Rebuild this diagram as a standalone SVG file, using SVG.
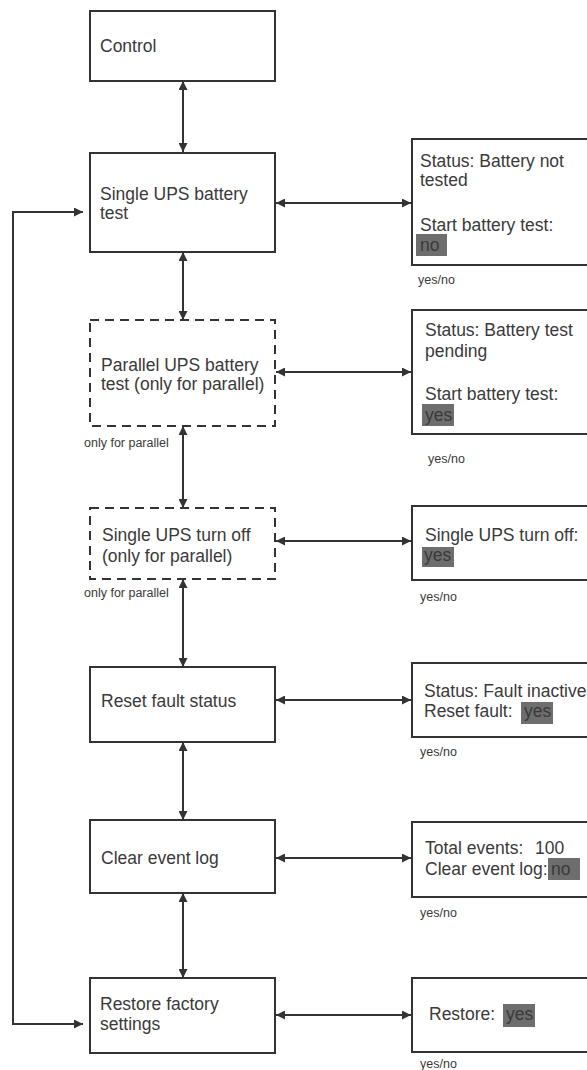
<svg xmlns="http://www.w3.org/2000/svg" width="587" height="1070" viewBox="0 0 587 1070">
  <defs>
    <marker id="ah" viewBox="0 0 10 10" refX="10" refY="5" markerWidth="9" markerHeight="9" markerUnits="userSpaceOnUse" orient="auto-start-reverse">
      <path d="M0,0 L10,5 L0,10 z" fill="#333"/>
    </marker>
    <style>
      .box { fill: #fff; stroke: #333; stroke-width: 2; }
      .dash { fill: #fff; stroke: #333; stroke-width: 2; stroke-dasharray: 9 6; }
      .t { font-family: "Liberation Sans", Arial, sans-serif; font-size: 17.5px; fill: #3a3a3a; }
      .s { font-family: "Liberation Sans", Arial, sans-serif; font-size: 12.5px; fill: #3a3a3a; }
      .hl { fill: #6e6e6e; }
      .c { fill: none; stroke: #333; stroke-width: 2; }
    </style>
  </defs>
  <rect width="587" height="1070" fill="#fff"/>

  <!-- connectors -->
  <g id="connectors">
    <line class="c" x1="183" y1="81" x2="183" y2="152" marker-start="url(#ah)" marker-end="url(#ah)"/>
    <line class="c" x1="183" y1="252" x2="183" y2="320" marker-start="url(#ah)" marker-end="url(#ah)"/>
    <line class="c" x1="183" y1="426" x2="183" y2="508" marker-start="url(#ah)" marker-end="url(#ah)"/>
    <line class="c" x1="183" y1="579" x2="183" y2="667" marker-start="url(#ah)" marker-end="url(#ah)"/>
    <line class="c" x1="183" y1="742" x2="183" y2="820" marker-start="url(#ah)" marker-end="url(#ah)"/>
    <line class="c" x1="183" y1="893" x2="183" y2="978" marker-start="url(#ah)" marker-end="url(#ah)"/>

    <line class="c" x1="276" y1="203" x2="411" y2="203" marker-start="url(#ah)" marker-end="url(#ah)"/>
    <line class="c" x1="276" y1="372" x2="411" y2="372" marker-start="url(#ah)" marker-end="url(#ah)"/>
    <line class="c" x1="276" y1="541" x2="411" y2="541" marker-start="url(#ah)" marker-end="url(#ah)"/>
    <line class="c" x1="276" y1="700" x2="411" y2="700" marker-start="url(#ah)" marker-end="url(#ah)"/>
    <line class="c" x1="276" y1="858" x2="411" y2="858" marker-start="url(#ah)" marker-end="url(#ah)"/>
    <line class="c" x1="276" y1="1015" x2="411" y2="1015" marker-start="url(#ah)" marker-end="url(#ah)"/>

    <polyline class="c" points="83,212 13,212 13,1024 83,1024" marker-start="url(#ah)" marker-end="url(#ah)"/>
  </g>

  <!-- menu column -->
  <g id="control">
    <rect class="box" x="90" y="11" width="185" height="70"/>
    <text class="t" x="100" y="52">Control</text>
  </g>
  <g id="single-battery-test">
    <rect class="box" x="90" y="153" width="185" height="99"/>
    <text class="t" x="100" y="200">Single UPS battery</text>
    <text class="t" x="100" y="219">test</text>
  </g>
  <g id="parallel-battery-test">
    <rect class="dash" x="90" y="320" width="185" height="106"/>
    <text class="t" x="101" y="371">Parallel UPS battery</text>
    <text class="t" x="101" y="390">test (only for parallel)</text>
    <text class="s" x="84" y="447">only for parallel</text>
  </g>
  <g id="single-turn-off">
    <rect class="dash" x="90" y="508" width="185" height="71"/>
    <text class="t" x="102" y="541">Single UPS turn off</text>
    <text class="t" x="102" y="562">(only for parallel)</text>
    <text class="s" x="84" y="597">only for parallel</text>
  </g>
  <g id="reset-fault">
    <rect class="box" x="90" y="667" width="185" height="75"/>
    <text class="t" x="101" y="707">Reset fault status</text>
  </g>
  <g id="clear-log">
    <rect class="box" x="90" y="820" width="185" height="73"/>
    <text class="t" x="101" y="864">Clear event log</text>
  </g>
  <g id="restore-factory">
    <rect class="box" x="90" y="978" width="185" height="75"/>
    <text class="t" x="100" y="1010">Restore factory</text>
    <text class="t" x="100" y="1030">settings</text>
  </g>

  <!-- screen column -->
  <g id="screen-battery-test">
    <rect class="box" x="412" y="139" width="200" height="126"/>
    <text class="t" x="420" y="167">Status: Battery not</text>
    <text class="t" x="420" y="186">tested</text>
    <text class="t" x="420" y="231">Start battery test:</text>
    <rect class="hl" x="416" y="234" width="31" height="22"/>
    <text class="t" x="420" y="251">no</text>
    <text class="s" x="418" y="284">yes/no</text>
  </g>
  <g id="screen-parallel-test">
    <rect class="box" x="412" y="310" width="200" height="124"/>
    <text class="t" x="425" y="336">Status: Battery test</text>
    <text class="t" x="425" y="357">pending</text>
    <text class="t" x="425" y="400">Start battery test:</text>
    <rect class="hl" x="422" y="404" width="32" height="22"/>
    <text class="t" x="425" y="421">yes</text>
    <text class="s" x="428" y="463">yes/no</text>
  </g>
  <g id="screen-turn-off">
    <rect class="box" x="412" y="506" width="200" height="74"/>
    <text class="t" x="425" y="541">Single UPS turn off:</text>
    <rect class="hl" x="422" y="547" width="32" height="20"/>
    <text class="t" x="424" y="561">yes</text>
    <text class="s" x="420" y="601">yes/no</text>
  </g>
  <g id="screen-reset-fault">
    <rect class="box" x="412" y="663" width="200" height="74"/>
    <text class="t" x="424" y="697">Status: Fault inactive</text>
    <rect class="hl" x="521" y="702" width="32" height="22"/>
    <text class="t" x="424" y="717">Reset fault:<tspan x="524">yes</tspan></text>
    <text class="s" x="420" y="756">yes/no</text>
  </g>
  <g id="screen-clear-log">
    <rect class="box" x="412" y="822" width="200" height="75"/>
    <text class="t" x="425" y="854">Total events:<tspan x="535">100</tspan></text>
    <rect class="hl" x="548" y="858" width="32" height="22"/>
    <text class="t" x="425" y="875">Clear event log:<tspan x="551">no</tspan></text>
    <text class="s" x="420" y="917">yes/no</text>
  </g>
  <g id="screen-restore">
    <rect class="box" x="412" y="978" width="200" height="74"/>
    <text class="t" x="429" y="1020">Restore:</text>
    <rect class="hl" x="503" y="1004" width="32" height="23"/>
    <text class="t" x="506" y="1020">yes</text>
    <text class="s" x="420" y="1068">yes/no</text>
  </g>
</svg>
